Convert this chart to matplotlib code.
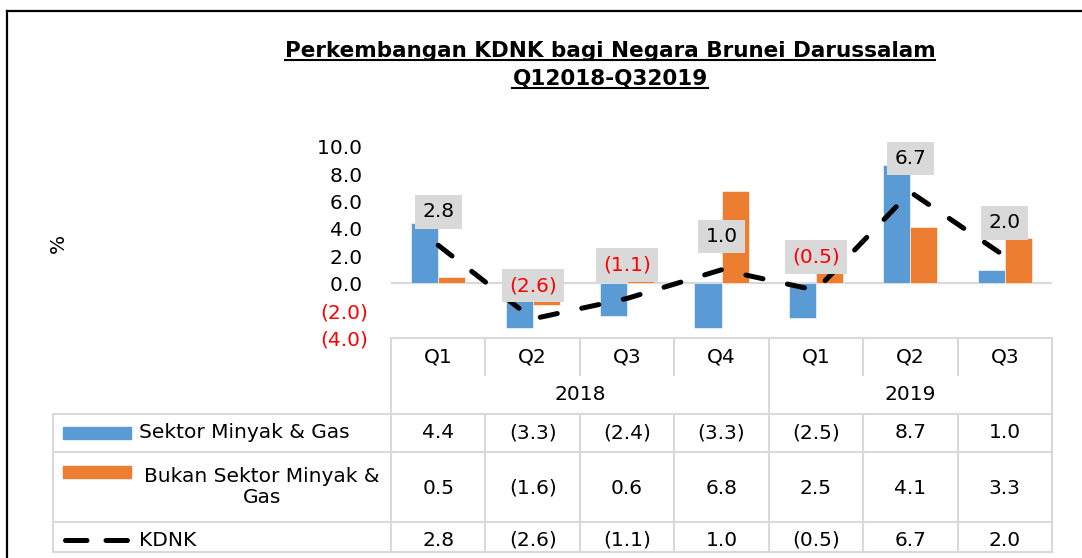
import matplotlib
matplotlib.use('Agg')
import matplotlib.pyplot as plt
from matplotlib.lines import Line2D
import numpy as np

# ---------------- data ----------------
quarters = ['Q1', 'Q2', 'Q3', 'Q4', 'Q1', 'Q2', 'Q3']
years = ['2018', '2019']
year_span = [4, 3]
minyak_gas = [4.4, -3.3, -2.4, -3.3, -2.5, 8.7, 1.0]
bukan_minyak_gas = [0.5, -1.6, 0.6, 6.8, 2.5, 4.1, 3.3]
kdnk = [2.8, -2.6, -1.1, 1.0, -0.5, 6.7, 2.0]
yticks = [-4, -2, 0, 2, 4, 6, 8, 10]
series_names = ['Sektor Minyak & Gas', 'Bukan Sektor Minyak &\nGas', 'KDNK']
title_lines = ['Perkembangan KDNK bagi Negara Brunei Darussalam', 'Q12018-Q32019']
ylabel = '%'

BLUE = '#5B9BD5'
ORANGE = '#ED7D31'
GRAY = '#D9D9D9'
RED = '#FF0000'
FS = 14.5

plt.rcParams['font.family'] = ['DejaVu Sans']


def fmt(v):
    return f'({abs(v):.1f})' if v < 0 else f'{v:.1f}'


W, H = 1082, 558
fig = plt.figure(figsize=(W / 100, H / 100), dpi=100)

# pixel geometry
px_left, px_right = 391, 1052
px_top, px_bot = 147, 338
ax = fig.add_axes([px_left / W, 1 - px_bot / H, (px_right - px_left) / W, (px_bot - px_top) / H])

x = np.arange(len(quarters))
bw = 0.286
ax.bar(x - bw / 2, minyak_gas, bw, color=BLUE, zorder=2, edgecolor='white', linewidth=0.4)
ax.bar(x + bw / 2, bukan_minyak_gas, bw, color=ORANGE, zorder=2, edgecolor='white', linewidth=0.4)
ln, = ax.plot(x, kdnk, color='black', lw=3.6, zorder=3, dash_capstyle='round')
ln.set_dashes((3.5, 5.0))
ax.axhline(0, color=GRAY, lw=1.6, zorder=1)

for xi, v in zip(x, kdnk):
    ax.annotate(fmt(v), (xi, v), xytext=(0, 24), textcoords='offset points',
                ha='center', va='center', fontsize=FS,
                color=RED if v < 0 else 'black', zorder=5,
                bbox=dict(boxstyle='square,pad=0.36', fc=GRAY, ec='none'))

ax.set_xlim(-0.5, len(quarters) - 0.5)
ax.set_ylim(yticks[0], yticks[-1])
ax.set_yticks(yticks)
ax.set_yticklabels([fmt(t) if t < 0 else fmt(t) + '\u2008' for t in yticks], fontsize=FS)
for lab, t in zip(ax.get_yticklabels(), yticks):
    if t < 0:
        lab.set_color(RED)
ax.tick_params(axis='y', length=0, pad=16.5)
ax.set_xticks([])
for s in ax.spines.values():
    s.set_visible(False)
ax.patch.set_alpha(0)

# ---------------- overlay (table, frame, title) ----------------
ov = fig.add_axes([0, 0, 1, 1], zorder=-1)
ov.set_xlim(0, W)
ov.set_ylim(H, 0)
ov.axis('off')

def hline(y, x0, x1, **kw):
    ov.add_line(Line2D([x0, x1], [y, y], **kw))

def vline(xx, y0, y1, **kw):
    ov.add_line(Line2D([xx, xx], [y0, y1], **kw))

# outer frame
hline(10.5, 7, W, color='black', lw=1.6)
vline(7, 10.5, H, color='black', lw=1.6)

# table geometry
colw = (px_right - px_left) / len(quarters)
t_top, t_yr, t_r1, t_r2, t_r3, t_bot = 337.6, 375, 414, 452, 522, 552
leg_left = 53
tl = dict(color=GRAY, lw=1.5)

hline(t_top, px_left, px_right, **tl)
hline(t_r1, leg_left, px_right, **tl)
hline(t_r2, leg_left, px_right, **tl)
hline(t_r3, leg_left, px_right, **tl)
hline(t_bot, leg_left, px_right, **tl)
vline(leg_left, t_r1, t_bot, **tl)
vline(px_left, t_top, t_bot, **tl)
vline(px_right, t_top, t_bot, **tl)
bounds = np.cumsum(year_span)[:-1]
for k in range(1, len(quarters)):
    xx = px_left + k * colw
    if k in bounds:
        vline(xx, t_top, t_bot, **tl)
    else:
        vline(xx, t_top, t_yr, **tl)
        vline(xx, t_r1, t_bot, **tl)

# category labels
for k, q in enumerate(quarters):
    ov.text(px_left + (k + 0.5) * colw, 357, q, ha='center', va='center', fontsize=FS)
start = 0
for yname, span in zip(years, year_span):
    ov.text(px_left + (start + span / 2) * colw, 394, yname, ha='center', va='center', fontsize=FS)
    start += span

# data rows
row_y = [433, 488, 540]
for vals, yy in zip([minyak_gas, bukan_minyak_gas, kdnk], row_y):
    for k, v in enumerate(vals):
        ov.text(px_left + (k + 0.5) * colw, yy, fmt(v), ha='center', va='center', fontsize=FS)

# legend keys
ov.add_patch(plt.Rectangle((63, 427), 68, 12, color=BLUE))
ov.add_patch(plt.Rectangle((63, 466), 68, 12, color=ORANGE))
kl = Line2D([65, 127], [540, 540], color='black', lw=3.6, dash_capstyle='round')
kl.set_dashes((4.3, 3.8))
ov.add_line(kl)
ov.text(139, 433, series_names[0], ha='left', va='center', fontsize=FS)
ov.text(262, 487, series_names[1], ha='center', va='center', fontsize=FS, linespacing=1.15)
ov.text(139, 540, series_names[2], ha='left', va='center', fontsize=FS)

# y label
ov.text(58, 243, ylabel, ha='center', va='center', rotation=90, fontsize=FS)

# title with underline
titles = []
for line, yb in zip(title_lines, [57, 85]):
    titles.append((ov.text(610, yb, line, ha='center', va='baseline', fontsize=15.5,
                           fontweight='bold'), yb))
fig.canvas.draw()
r = fig.canvas.get_renderer()
for t, yb in titles:
    bb = t.get_window_extent(r)
    hline(yb + 3, bb.x0, bb.x1, color='black', lw=1.5)

fig.savefig('out.png', dpi=100)
